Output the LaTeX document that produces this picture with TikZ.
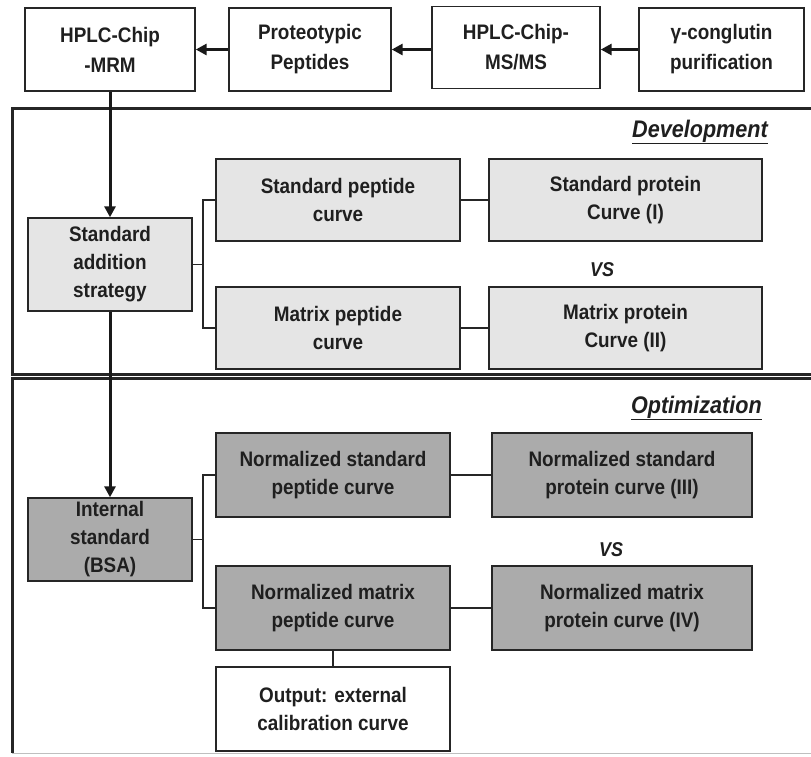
\documentclass[tikz,border=0pt]{standalone}
\usepackage{fontspec}
\setmainfont{Liberation Sans}[FakeStretch=0.9]
\usetikzlibrary{arrows.meta}

\tikzset{
  box/.style={draw=black!85, line width=1.4pt, align=center, inner sep=0pt,
    font=\bfseries\fontsize{21}{28}\selectfont, text=black!88},
  topbox/.style={box, fill=white},
  headbox/.style={topbox, font=\bfseries\fontsize{21}{30}\selectfont},
  devbox/.style={box, fill=black!10},
  optbox/.style={box, fill=black!33},
  flow/.style={line width=3pt, draw=black!90, -{Triangle[length=11pt,width=11pt]}},
  link/.style={line width=1.4pt, draw=black!85},
  panel/.style={line width=3pt, draw=black!85},
  heading/.style={font=\bfseries\itshape\fontsize{24}{28}\selectfont, anchor=east, inner sep=0pt, text=black!88},
  vsnode/.style={font=\bfseries\itshape\fontsize{20}{24}\selectfont, inner sep=0pt, text=black!88}
}

\begin{document}
\begin{tikzpicture}[x=1pt,y=-1pt]
\fill[white] (0,0) rectangle (811,756);
\useasboundingbox (0,0) rectangle (811,756);

% section frames
\draw[panel] (811,108) -- (12,108) -- (12,374) -- (811,374);
\draw[panel] (811,378) -- (12,378) -- (12,753);
\draw[line width=1pt, black!25] (12,753) -- (811,753);

% top row
\node[headbox, minimum width=170pt, minimum height=83pt] (mrm) at (110,49.5) {HPLC-Chip\\-MRM};
\node[headbox, minimum width=162pt, minimum height=83pt] (prot) at (310,49.5) {Proteotypic\\Peptides};
\node[headbox, minimum width=168pt, minimum height=82pt] (msms) at (516,47.5) {HPLC-Chip-\\MS/MS};
\node[headbox, minimum width=165pt, minimum height=83pt] (gam) at (721.5,49.5) {γ-conglutin\\purification};

\draw[flow] (gam.west) -- (gam.west -| msms.east);
\draw[flow] (msms.west |- prot.east) -- (prot.east);
\draw[flow] (prot.west) -- (mrm.east);

% development
\node[heading] (dev) at (768,132) {\underline{Development}};
\node[devbox, minimum width=164pt, minimum height=93pt] (sa) at (110,264.5) {Standard\\addition\\strategy};
\node[devbox, minimum width=244pt, minimum height=82pt] (sp) at (338,200) {Standard peptide\\curve};
\node[devbox, minimum width=273pt, minimum height=82pt] (spr) at (625.5,200) {Standard protein\\Curve (I)};
\node[devbox, minimum width=244pt, minimum height=82pt] (mp) at (338,328) {Matrix peptide\\curve};
\node[devbox, minimum width=273pt, minimum height=82pt] (mpr) at (625.5,328) {Matrix protein\\Curve (II)};
\node[vsnode] (vs1) at (602,270) {VS};

\coordinate (sak) at (203,264.5);
\draw[link] (sa.east) -- (sak);
\draw[link] (sp.west) -| (sak) |- (mp.west);
\draw[link] (sp.east) -- (spr.west);
\draw[link] (mp.east) -- (mpr.west);

% optimization
\node[heading] (opt) at (762,408) {\underline{Optimization}};
\node[optbox, minimum width=164pt, minimum height=83pt] (is) at (110,539.5) {Internal\\standard\\(BSA)};
\node[optbox, minimum width=234pt, minimum height=84pt] (nsp) at (333,475) {Normalized standard\\peptide curve};
\node[optbox, minimum width=260pt, minimum height=84pt] (nspr) at (622,475) {Normalized standard\\protein curve (III)};
\node[optbox, minimum width=234pt, minimum height=84pt] (nmp) at (333,608) {Normalized matrix\\peptide curve};
\node[optbox, minimum width=260pt, minimum height=84pt] (nmpr) at (622,608) {Normalized matrix\\protein curve (IV)};
\node[topbox, minimum width=234pt, minimum height=84pt] (out) at (333,709) {Output: external\\calibration curve};
\node[vsnode] (vs2) at (611,550) {VS};

\coordinate (isk) at (203,539.5);
\draw[link] (is.east) -- (isk);
\draw[link] (nsp.west) -| (isk) |- (nmp.west);
\draw[link] (nsp.east) -- (nspr.west);
\draw[link] (nmp.east) -- (nmpr.west);
\draw[link] (nmp.south) -- (out.north);

% main vertical flow
\draw[flow] (mrm.south) -- (sa.north);
\draw[flow] (sa.south) -- (is.north);
\end{tikzpicture}
\end{document}
